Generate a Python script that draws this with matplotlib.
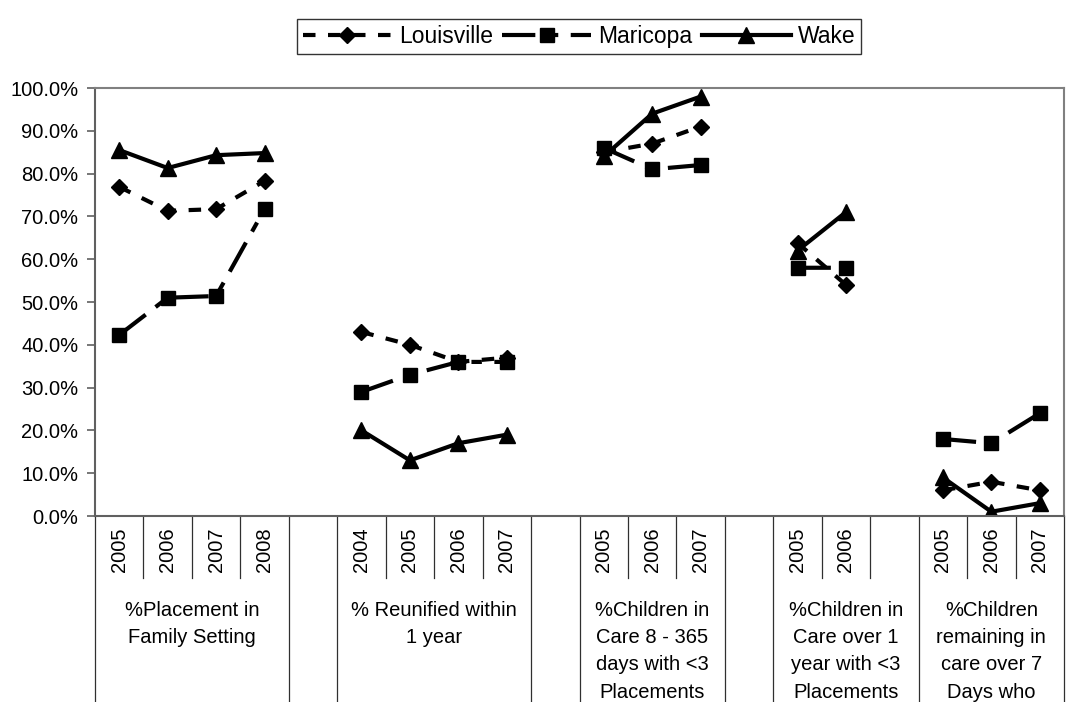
import numpy as np
import matplotlib
matplotlib.use('Agg')
from matplotlib import pyplot as plt
from matplotlib.ticker import FuncFormatter

plt.rcParams['font.family'] = ['Liberation Sans', 'DejaVu Sans']

nan = np.nan

# one entry per category slot on the x axis ('' = blank slot)
years = ['2005', '2006', '2007', '2008', '',
         '2004', '2005', '2006', '2007', '',
         '2005', '2006', '2007', '',
         '2005', '2006', '',
         '2005', '2006', '2007']
# which outer group every slot belongs to (None = separator slot)
slot_group = [0, 0, 0, 0, None,
              1, 1, 1, 1, None,
              2, 2, 2, None,
              3, 3, 3,
              4, 4, 4]
group_names = ['%Placement in\nFamily Setting',
               '% Reunified within\n1 year',
               '%Children in\nCare 8 - 365\ndays with <3\nPlacements',
               '%Children in\nCare over 1\nyear with <3\nPlacements',
               '%Children\nremaining in\ncare over 7\nDays who']

louisville = [76.9, 71.3, 71.7, 78.3, nan, 43, 40, 36, 37, nan,
              85, 87, 91, nan, 63.8, 54, nan, 6, 8, 6]
maricopa = [42.3, 51, 51.4, 71.7, nan, 29, 33, 36, 36, nan,
            86, 81, 82, nan, 58, 58, nan, 18, 17, 24]
wake = [85.5, 81.3, 84.3, 84.8, nan, 20, 13, 17, 19, nan,
        84, 94, 98, nan, 62, 71, nan, 9, 1, 3]

W, H = 1066, 702
fig = plt.figure(figsize=(W / 100, H / 100), dpi=100)
left, right, top, bottom = 95, 1064, 88, 516
ax = fig.add_axes([left / W, 1 - bottom / H, (right - left) / W, (bottom - top) / H])

x = np.arange(len(years))
lw = 3.0
ax.plot(x, louisville, color='black', lw=lw, dashes=(3, 3), marker='D', ms=8.5,
        label='Louisville')
ax.plot(x, maricopa, color='black', lw=lw, dashes=(8, 3, 2.5, 3), marker='s', ms=10,
        label='Maricopa')
ax.plot(x, wake, color='black', lw=lw, marker='^', ms=11.5, label='Wake')

ax.set_xlim(-0.5, len(years) - 0.5)
ax.set_ylim(0, 100)
ax.set_yticks(np.arange(0, 101, 10))
ax.yaxis.set_major_formatter(FuncFormatter(lambda v, p: '%.1f%%' % v))
ax.tick_params(axis='y', labelsize=14.5, length=6, width=1.2, color='#606060', pad=6)
ax.set_xticks([])
for s in ax.spines.values():
    s.set_color('#808080')
    s.set_linewidth(1.5)
ax.spines['bottom'].set_color('#606060')
ax.spines['left'].set_color('#606060')

# multi-level category axis below the plot
tr = ax.get_xaxis_transform()
px = bottom - top
short_y = -(578 - bottom) / px
tall_y = -(H - bottom) / px
n = len(years)
for k in range(n + 1):
    prev = slot_group[k - 1] if k > 0 else 'edge'
    cur = slot_group[k] if k < n else 'edge'
    y0 = tall_y if prev != cur else short_y
    ax.plot([k - 0.5, k - 0.5], [0, y0], color='#303030', lw=0.9,
            transform=tr, clip_on=False)

for k, yr in enumerate(years):
    if yr:
        ax.text(k, -(550 - bottom) / px, yr, rotation=90, ha='center', va='center',
                fontsize=14.5, transform=tr)

for g, name in enumerate(group_names):
    idx = [k for k, sg in enumerate(slot_group) if sg == g]
    ax.text((idx[0] + idx[-1]) / 2, -(601 - bottom) / px, name, ha='center', va='top',
            fontsize=14.5, linespacing=1.55, transform=tr)

leg = fig.legend(loc='upper center', bbox_to_anchor=(579 / W, 1 - 8 / H), ncol=3,
                 fontsize=16.5, frameon=True, fancybox=False, edgecolor='black',
                 handlelength=3.9, handletextpad=0.3, columnspacing=0.4,
                 borderpad=0.25, numpoints=1)
leg.get_frame().set_linewidth(1.0)

fig.savefig('out.png', dpi=100)
